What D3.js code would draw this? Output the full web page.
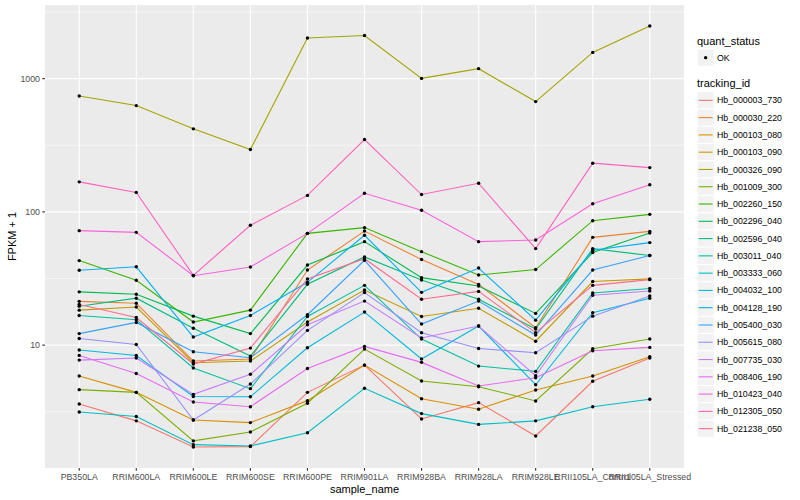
<!DOCTYPE html>
<html>
<head>
<meta charset="utf-8">
<script src="https://cdn.jsdelivr.net/npm/d3@7"></script>
<style>
  body { margin: 0; background: #fff; }
  text { font-family: "Liberation Sans", Arial, sans-serif; }
</style>
</head>
<body>
<svg id="chart" width="800" height="500"></svg>
<script>
'use strict';
// x categories
const samples = ["PB350LA", "RRIM600LA", "RRIM600LE", "RRIM600SE", "RRIM600PE", "RRIM901LA",
  "RRIM928BA", "RRIM928LA", "RRIM928LE", "RRII105LA_Control", "RRII105LA_Stressed"];

const trackingIds = ["Hb_000003_730", "Hb_000030_220", "Hb_000103_080", "Hb_000103_090",
  "Hb_000326_090", "Hb_001009_300", "Hb_002260_150", "Hb_002296_040", "Hb_002596_040",
  "Hb_003011_040", "Hb_003333_060", "Hb_004032_100", "Hb_004128_190", "Hb_005400_030",
  "Hb_005615_080", "Hb_007735_030", "Hb_008406_190", "Hb_010423_040", "Hb_012305_050",
  "Hb_021238_050"];

// FPKM + 1, one value per sample
const hb000003_730 = [3.61, 2.70, 1.72, 1.73, 4.42, 7.08, 2.79, 3.70, 2.08, 5.35, 8.0];
const hb000030_220 = [21.3, 20.6, 7.59, 7.86, 36.6, 71.8, 43.9, 28.5, 13.5, 64.4, 71.4];
const hb000103_080 = [5.86, 4.42, 2.74, 2.62, 3.83, 7.08, 3.96, 3.30, 4.60, 5.86, 8.17];
const hb000103_090 = [18.3, 19.3, 7.37, 7.59, 14.9, 25.9, 16.4, 18.9, 10.7, 30.0, 31.4];
const hb000326_090 = [741, 628, 420, 294, 2018, 2110, 1005, 1189, 673, 1574, 2483];
const hb001009_300 = [4.63, 4.42, 1.91, 2.23, 3.66, 9.33, 5.38, 4.87, 3.81, 9.38, 11.1];
const hb002260_150 = [43.1, 30.7, 14.9, 18.3, 69.0, 76.2, 50.3, 33.6, 36.9, 85.9, 95.8];
const hb002296_040 = [25.1, 24.1, 16.5, 12.2, 39.9, 59.8, 32.1, 27.8, 17.3, 49.5, 69.4];
const hb002596_040 = [19.6, 22.5, 13.4, 8.27, 28.6, 45.9, 30.8, 22.1, 13.2, 53.0, 47.0];
const hb003011_040 = [16.7, 15.5, 6.73, 4.71, 16.4, 28.1, 11.1, 6.96, 6.35, 24.6, 26.6];
const hb003333_060 = [3.15, 2.91, 1.79, 1.75, 2.20, 4.74, 3.06, 2.54, 2.70, 3.45, 3.92];
const hb004032_100 = [9.18, 8.35, 4.11, 4.10, 9.55, 17.7, 7.86, 13.9, 5.04, 17.5, 22.5];
const hb004128_190 = [36.5, 38.7, 11.5, 16.7, 29.6, 66.7, 24.9, 37.9, 15.4, 51.5, 58.8];
const hb005400_030 = [12.2, 14.8, 8.91, 8.03, 16.9, 43.3, 14.4, 21.4, 11.9, 36.6, 47.0];
const hb005615_080 = [11.2, 10.1, 2.74, 5.10, 12.9, 24.8, 12.4, 9.44, 8.76, 16.5, 23.4];
const hb007735_030 = [7.72, 8.0, 4.27, 6.04, 14.2, 21.4, 11.3, 13.9, 5.89, 23.7, 25.5];
const hb008406_190 = [8.37, 6.12, 3.74, 3.45, 6.67, 9.78, 7.42, 4.93, 5.69, 9.06, 9.61];
const hb010423_040 = [72.3, 70.2, 33.2, 38.6, 69.0, 138, 103, 59.8, 61.5, 115, 160];
const hb012305_050 = [168, 140, 33.4, 79.3, 133, 349, 135, 164, 53, 232, 215];
const hb021238_050 = [20.2, 16.1, 7.21, 9.5, 31.4, 44.5, 22.1, 25.3, 12.4, 28.1, 31.0];

const seriesValues = [hb000003_730, hb000030_220, hb000103_080, hb000103_090, hb000326_090,
  hb001009_300, hb002260_150, hb002296_040, hb002596_040, hb003011_040, hb003333_060,
  hb004032_100, hb004128_190, hb005400_030, hb005615_080, hb007735_030, hb008406_190,
  hb010423_040, hb012305_050, hb021238_050];

const yTicks = [10, 100, 1000];
const quantStatus = ["OK"];

// ggplot default hue palette for 20 groups
const palette = ["#F8766D", "#EA8331", "#D89000", "#C09B00", "#A3A500", "#7CAE00", "#39B600",
  "#00BB4E", "#00BF7D", "#00C1A3", "#00BFC4", "#00BAE0", "#00B0F6", "#35A2FF", "#9590FF",
  "#C77CFF", "#E76BF3", "#FA62DB", "#FF62BC", "#FF6C91"];

(() => {
    const svg = d3.select("#chart");
    const panel = { left: 45, right: 684, top: 5, bottom: 468 };

    const series = trackingIds.map((id, i) => ({
        id,
        values: seriesValues[i].map((v, j) => ({ sample: samples[j], value: v }))
    }));
    const all = series.flatMap(s => s.values);

    // discrete x with ggplot's 0.6 expansion
    const n = samples.length;
    const xs = d3.scaleLinear()
        .domain([-0.6, n - 1 + 0.6])
        .range([panel.left, panel.right]);
    const x = s => xs(samples.indexOf(s));

    // log y with 5% expansion in log space
    const [lo, hi] = d3.extent(all, d => Math.log10(d.value));
    const pad = (hi - lo) * 0.05;
    const ys = d3.scaleLog()
        .domain([Math.pow(10, lo - pad), Math.pow(10, hi + pad)])
        .range([panel.bottom, panel.top]);

    const color = d3.scaleOrdinal().domain(trackingIds).range(palette);

    // panel background
    svg.append("rect")
        .attr("x", panel.left).attr("y", panel.top)
        .attr("width", panel.right - panel.left)
        .attr("height", panel.bottom - panel.top)
        .attr("fill", "#EBEBEB");

    // minor gridlines (half decades)
    const minor = [0.5, 1.5, 2.5, 3.5].map(e => Math.pow(10, e))
        .filter(v => ys(v) >= panel.top && ys(v) <= panel.bottom);
    svg.append("g").selectAll("line")
        .data(minor)
        .enter().append("line")
            .attr("x1", panel.left).attr("x2", panel.right)
            .attr("y1", d => ys(d)).attr("y2", d => ys(d))
            .attr("stroke", "#fff").attr("stroke-width", 0.55);

    // major gridlines
    svg.append("g").selectAll("line")
        .data(yTicks)
        .enter().append("line")
            .attr("x1", panel.left).attr("x2", panel.right)
            .attr("y1", d => ys(d)).attr("y2", d => ys(d))
            .attr("stroke", "#fff").attr("stroke-width", 1.1);
    svg.append("g").selectAll("line")
        .data(samples)
        .enter().append("line")
            .attr("x1", d => x(d)).attr("x2", d => x(d))
            .attr("y1", panel.top).attr("y2", panel.bottom)
            .attr("stroke", "#fff").attr("stroke-width", 1.1);

    // lines
    const line = d3.line()
        .x(d => x(d.sample))
        .y(d => ys(d.value));
    svg.append("g").selectAll("path")
        .data(series)
        .enter().append("path")
            .attr("fill", "none")
            .attr("stroke", d => color(d.id))
            .attr("stroke-width", 1.1)
            .attr("d", d => line(d.values));

    // points
    svg.append("g").selectAll("circle")
        .data(all)
        .enter().append("circle")
            .attr("cx", d => x(d.sample))
            .attr("cy", d => ys(d.value))
            .attr("r", 1.7)
            .attr("fill", "#000");

    // y axis
    const yAxis = svg.append("g");
    yAxis.selectAll("line")
        .data(yTicks)
        .enter().append("line")
            .attr("x1", panel.left - 2.75).attr("x2", panel.left)
            .attr("y1", d => ys(d)).attr("y2", d => ys(d))
            .attr("stroke", "#333").attr("stroke-width", 1.1);
    yAxis.selectAll("text")
        .data(yTicks)
        .enter().append("text")
            .attr("x", panel.left - 5)
            .attr("y", d => ys(d))
            .attr("dy", "0.35em")
            .attr("text-anchor", "end")
            .attr("font-size", 8.8)
            .attr("fill", "#4D4D4D")
            .text(d => d3.format("d")(d));

    // x axis
    const xAxis = svg.append("g");
    xAxis.selectAll("line")
        .data(samples)
        .enter().append("line")
            .attr("x1", d => x(d)).attr("x2", d => x(d))
            .attr("y1", panel.bottom).attr("y2", panel.bottom + 2.75)
            .attr("stroke", "#333").attr("stroke-width", 1.1);
    xAxis.selectAll("text")
        .data(samples)
        .enter().append("text")
            .attr("x", d => x(d))
            .attr("y", panel.bottom + 12.3)
            .attr("text-anchor", "middle")
            .attr("font-size", 8.8)
            .attr("fill", "#4D4D4D")
            .text(d => d);

    // axis titles
    svg.append("text")
        .attr("x", (panel.left + panel.right) / 2)
        .attr("y", 493)
        .attr("text-anchor", "middle")
        .attr("font-size", 11)
        .text("sample_name");
    svg.append("text")
        .attr("transform", `translate(16,${(panel.top + panel.bottom) / 2}) rotate(-90)`)
        .attr("text-anchor", "middle")
        .attr("font-size", 11)
        .text("FPKM + 1");

    // legends
    const lx = 697, key = 17.28;
    const leg = svg.append("g");
    leg.append("text").attr("x", lx).attr("y", 44.5).attr("font-size", 11).text("quant_status");
    quantStatus.forEach((q, i) => {
        const y0 = 49 + i * key;
        leg.append("rect").attr("x", lx).attr("y", y0).attr("width", key).attr("height", key)
            .attr("fill", "#F2F2F2").attr("stroke", "#fff");
        leg.append("circle").attr("cx", lx + key / 2).attr("cy", y0 + key / 2).attr("r", 1.7).attr("fill", "#000");
        leg.append("text").attr("x", lx + key + 2.6).attr("y", y0 + key / 2).attr("dy", "0.35em")
            .attr("font-size", 8.8).text(q);
    });

    leg.append("text").attr("x", lx).attr("y", 87.3).attr("font-size", 11).text("tracking_id");
    const rows = leg.selectAll(".row")
        .data(trackingIds)
        .enter().append("g")
            .attr("transform", (d, i) => `translate(${lx},${91.7 + i * key})`);
    rows.append("rect").attr("width", key).attr("height", key)
        .attr("fill", "#F2F2F2").attr("stroke", "#fff");
    rows.append("line")
        .attr("x1", 1.7).attr("x2", key - 1.7)
        .attr("y1", key / 2).attr("y2", key / 2)
        .attr("stroke", d => color(d)).attr("stroke-width", 1.1);
    rows.append("text")
        .attr("x", key + 2.6).attr("y", key / 2).attr("dy", "0.35em")
        .attr("font-size", 8.8)
        .text(d => d);
})();
</script>
</body>
</html>
